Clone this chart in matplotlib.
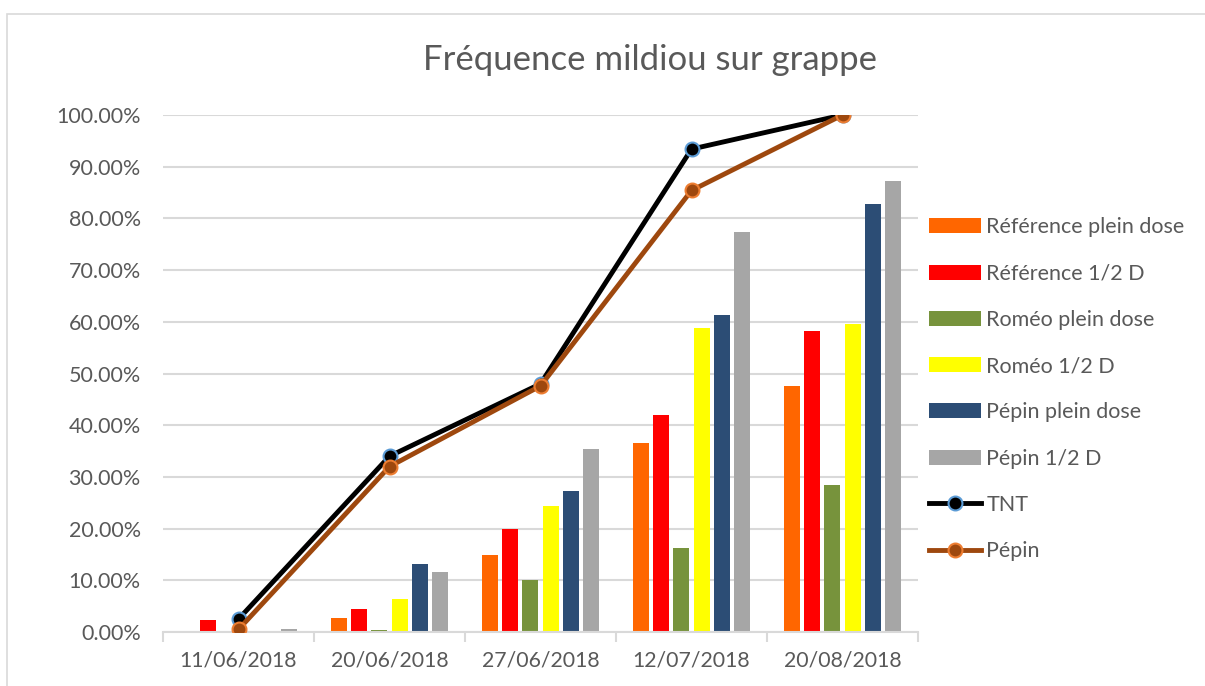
import numpy as np
import matplotlib
matplotlib.use('Agg')
import matplotlib.pyplot as plt
from matplotlib.patches import Rectangle, Patch
from matplotlib.lines import Line2D
from matplotlib.ticker import FuncFormatter, FixedLocator

plt.rcParams['font.family'] = ['Lato', 'DejaVu Sans']

# données (en %)
dates = ['11/06/2018', '20/06/2018', '27/06/2018', '12/07/2018', '20/08/2018']
ref_plein = [0, 2.8, 14.9, 36.5, 47.6]
ref_demi = [2.3, 4.4, 20.0, 41.9, 58.2]
romeo_plein = [0, 0.3, 10.0, 16.3, 28.4]
romeo_demi = [0, 6.4, 24.3, 58.8, 59.6]
pepin_plein = [0, 13.1, 27.3, 61.4, 82.8]
pepin_demi = [0.5, 11.6, 35.3, 77.4, 87.2]
tnt = [2.5, 34.0, 48.0, 93.4, 100]
pepin = [0.5, 32.0, 47.6, 85.4, 100]

series = [ref_plein, ref_demi, romeo_plein, romeo_demi, pepin_plein, pepin_demi]
noms = ['Référence plein dose', 'Référence 1/2 D', 'Roméo plein dose',
        'Roméo 1/2 D', 'Pépin plein dose', 'Pépin 1/2 D']
couleurs = ['#FF6600', '#FF0000', '#77933C', '#FFFF00', '#2C4D75', '#A6A6A6']

gris = '#595959'
grille = '#D9D9D9'

fig = plt.figure(figsize=(12.05, 6.86), dpi=100)
ax = fig.add_axes([163/1205, 54/686, 755/1205, 517/686])

# cadre extérieur
fig.patches.append(Rectangle((7/1205, -0.01), 1.2, (686-14)/686 + 0.01,
                             transform=fig.transFigure, fill=False,
                             edgecolor=grille, lw=1.2))

x = np.arange(len(dates))
pas = 0.1325
larg = 0.106
for k, (vals, nom, c) in enumerate(zip(series, noms, couleurs)):
    ax.bar(x + (k - 2.5) * pas, vals, width=larg, color=c, label=nom, zorder=2)

ax.plot(x, tnt, color='black', lw=3.5, marker='o', ms=10, mfc='black',
        mec='#5B9BD5', mew=1.5, zorder=4, label='TNT')
ax.plot(x, pepin, color='#9E480E', lw=3.5, marker='o', ms=10, mfc='#9E480E',
        mec='#ED7D31', mew=1.5, zorder=5, label='Pépin')

ax.set_xlim(-0.5, len(dates) - 0.5)
ax.set_ylim(0, 100)
ax.set_yticks(np.arange(0, 101, 10))
ax.yaxis.set_major_formatter(FuncFormatter(lambda v, p: '{:.2f}%'.format(v)))
ax.yaxis.grid(True, color=grille, lw=1.5, zorder=0)
ax.set_axisbelow(True)

ax.set_xticks(x)
ax.set_xticklabels(dates)
ax.xaxis.set_minor_locator(FixedLocator(np.arange(-0.5, len(dates), 1)))
ax.tick_params(axis='x', which='major', length=0, pad=13, labelsize=15.3, labelcolor=gris)
ax.tick_params(axis='x', which='minor', length=7, color=grille, width=1.5)
ax.tick_params(axis='y', length=0, pad=16, labelsize=15.5, labelcolor=gris)

for s in ['top', 'right', 'left']:
    ax.spines[s].set_visible(False)
ax.spines['bottom'].set_color(grille)
ax.spines['bottom'].set_linewidth(1.5)

fig.text(650/1205, 1 - 60/686, 'Fréquence mildiou sur grappe', ha='center',
         va='center', fontsize=25, color=gris)

handles = [Patch(facecolor=c, label=n) for c, n in zip(couleurs, noms)]
handles += [Line2D([], [], color='black', lw=3.5, marker='o', ms=10, mfc='black',
                   mec='#5B9BD5', mew=1.5, label='TNT'),
            Line2D([], [], color='#9E480E', lw=3.5, marker='o', ms=10, mfc='#9E480E',
                   mec='#ED7D31', mew=1.5, label='Pépin')]
fig.legend(handles=handles, loc='upper left', bbox_to_anchor=(910/1205, 1 - 198/686),
           frameon=False, fontsize=15.5, labelcolor=gris, handlelength=2.4,
           handleheight=0.7, handletextpad=0.25, labelspacing=1.22)

fig.savefig('out.png', dpi=100)
